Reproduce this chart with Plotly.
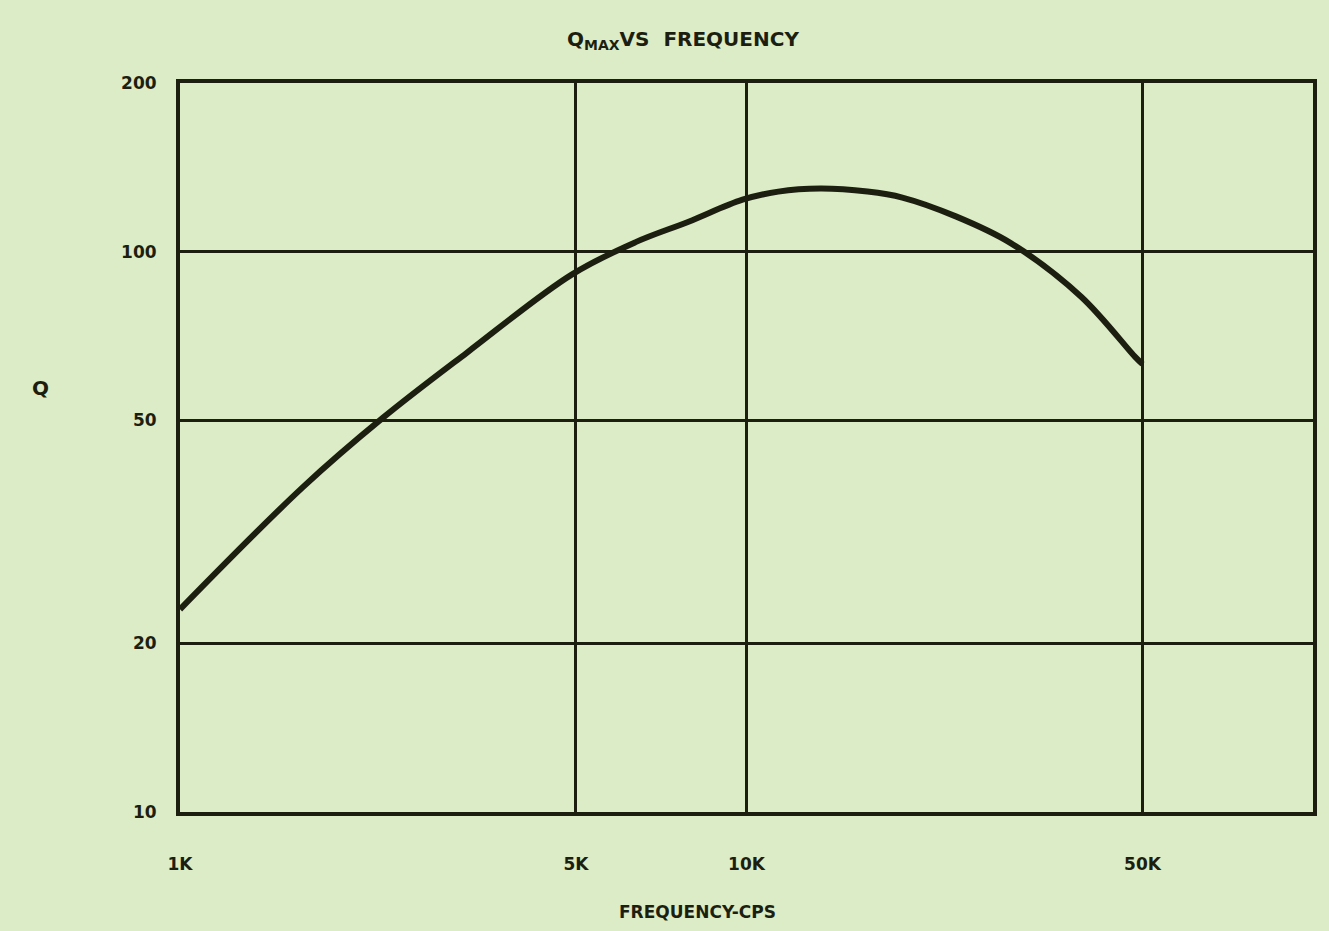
import plotly.graph_objects as go

freq_hz = [1000, 1648, 2280, 3208, 4914, 6372, 7903, 9840, 11380, 13500, 16350,
           18840, 23470, 29220, 38970, 48530, 50000]
q_max = [23.0, 38.0, 50.5, 66.0, 91.0, 104.0, 113.1, 123.8, 128.0, 129.6, 128.0,
         124.9, 115.5, 103.7, 83.1, 64.9, 63.0]

x_tickvals = [1000, 5000, 10000, 50000]
x_ticktext = ["1K", "5K", "10K", "50K"]
y_tickvals = [10, 20, 50, 100, 200]
y_ticktext = ["10", "20", "50", "100", "200"]

bg = "#dcecc6"
ink = "#1c1f10"
fam = "DejaVu Sans, Liberation Sans, sans-serif"
tickfont = dict(family=fam, size=17, color=ink, weight="bold")

fig = go.Figure()
fig.add_trace(go.Scatter(x=freq_hz, y=q_max, mode="lines",
                         line=dict(color=ink, width=6, shape="spline", smoothing=1.0),
                         showlegend=False, hoverinfo="skip"))

fig.update_layout(
    width=1329, height=931,
    margin=dict(l=180, r=16, t=83, b=119),
    paper_bgcolor=bg, plot_bgcolor=bg,
    font=dict(family=fam, size=17, color=ink),
    xaxis=dict(type="log", range=[3, 5], tickvals=x_tickvals, ticktext=x_ticktext,
               showgrid=True, gridcolor=ink, gridwidth=3, zeroline=False,
               showline=True, linecolor=ink, linewidth=4, mirror=True,
               ticks="", ticklabelstandoff=34, tickfont=tickfont),
    yaxis=dict(type="log", range=[1, 2.30103], tickvals=y_tickvals, ticktext=y_ticktext,
               showgrid=True, gridcolor=ink, gridwidth=3, zeroline=False,
               showline=True, linecolor=ink, linewidth=4, mirror=True,
               ticks="", ticklabelstandoff=16, tickfont=tickfont),
)

pw = 1329 - 180 - 16
ph = 931 - 83 - 119
labels = [
    ("<b>Q<sub>MAX</sub>VS  FREQUENCY</b>", 683, 40, 20),
    ("<b>FREQUENCY-CPS</b>", 697, 912, 17),
    ("<b>Q</b>", 40, 388, 20),
]
for text, px, py, size in labels:
    fig.add_annotation(text=text, xref="paper", yref="paper",
                       x=(px - 180) / pw, y=1 - (py - 83) / ph,
                       xanchor="center", yanchor="middle", showarrow=False,
                       font=dict(family=fam, size=size, color=ink))

fig.write_html("out.html", config={"displayModeBar": False},
               post_script="document.body.style.margin='0';document.body.style.overflow='hidden';")
